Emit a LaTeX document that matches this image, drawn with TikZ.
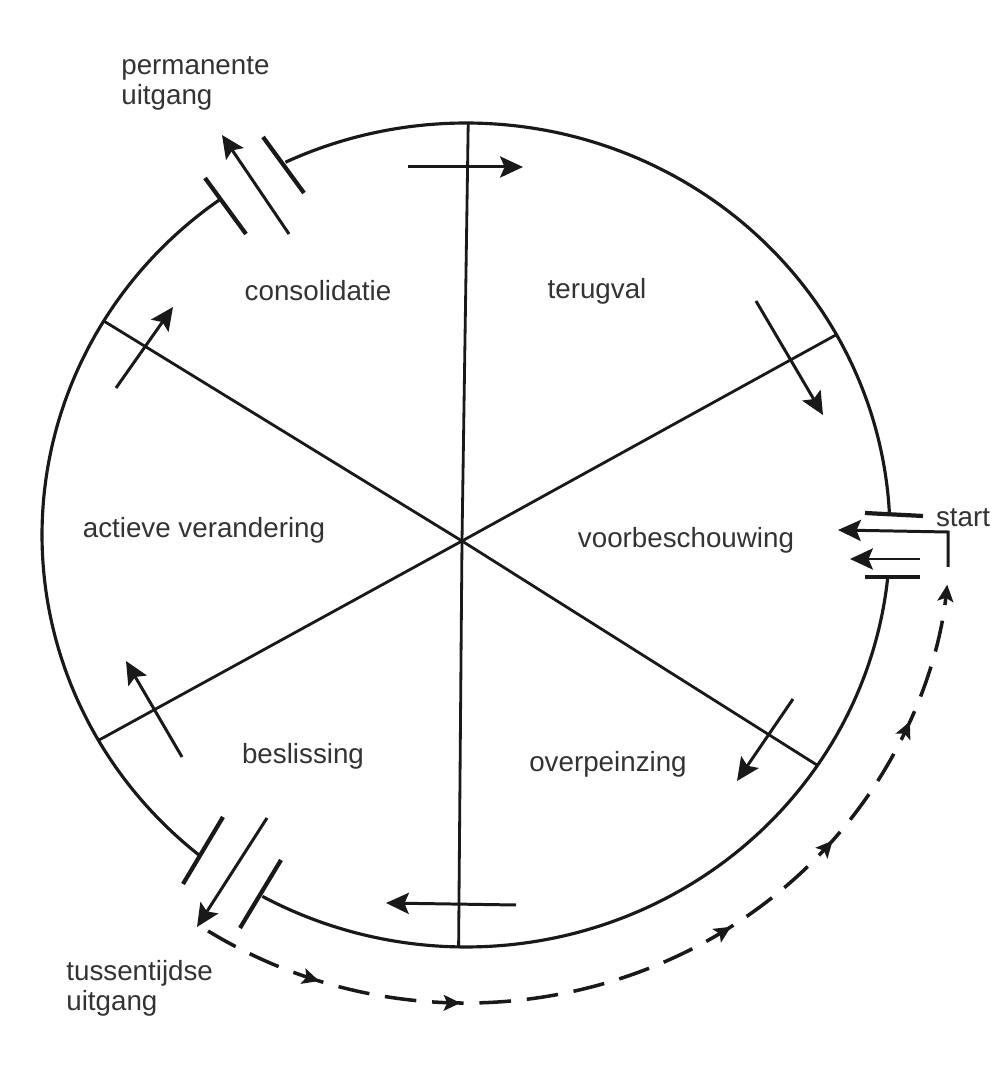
\documentclass[tikz,border=0pt]{standalone}
\usepackage{fontspec}
\setmainfont{Liberation Sans}
\usetikzlibrary{arrows.meta}
\usetikzlibrary{decorations.markings}

\tikzset{
  ring/.style={line width=1.8pt, black!90},
  spoke/.style={line width=1.6pt, black!90},
  gate/.style={line width=2.4pt, black!90},
  flow/.style={line width=1.7pt, black!90, -{Stealth[length=13pt,width=12pt,inset=2.5pt]}},
  phase/.style={font=\fontsize{15.8}{17}\selectfont, text=black!80},
  note/.style={phase, align=left, anchor=west, inner sep=0pt},
  smalltip/.tip={Stealth[length=9.5pt,width=9pt,inset=2pt]},
}

\begin{document}
\begin{tikzpicture}[x=0.02cm, y=0.02cm]
\useasboundingbox (0,0) rectangle (1005,1072);

\pgfmathsetmacro{\rx}{424}
\pgfmathsetmacro{\ry}{412}

\coordinate (c) at (466,537);
\coordinate (hub) at (462,531);

% Draw the circle, open at the three gates
\draw[ring] (c) ++(3:{\rx} and {\ry}) arc[start angle=3, end angle=115.2, x radius=\rx, y radius=\ry];
\draw[ring] (c) ++(125.4:{\rx} and {\ry}) arc[start angle=125.4, end angle=231.1, x radius=\rx, y radius=\ry];
\draw[ring] (c) ++(241.3:{\rx} and {\ry}) arc[start angle=241.3, end angle=354.2, x radius=\rx, y radius=\ry];

% Draw the six spokes
\foreach \a/\n in {89.7/s1, 29.1/s2, -34/s3, 269/s4, 209.9/s5, 148.7/s6} {
  \path (c) ++(\a:{\rx} and {\ry}) coordinate (\n);
  \draw[spoke] (hub) -- (\n);
}

% Phase names
\node[phase] (consolidatie) at (318,781) {consolidatie};
\node[phase] (terugval) at (597,781) {terugval};
\node[phase] (actief) at (204,542) {actieve verandering};
\node[phase] (voorbeschouwing) at (686,532) {voorbeschouwing};
\node[phase] (beslissing) at (303,316) {beslissing};
\node[phase] (overpeinzing) at (608,308) {overpeinzing};

% Arrows running round the circle
\coordinate (a1) at (408,905);  \coordinate (b1) at (523,905);
\coordinate (a2) at (756,771);  \coordinate (b2) at (823,657);
\coordinate (a3) at (793,373);  \coordinate (b3) at (737,291);
\coordinate (a4) at (516,167);  \coordinate (b4) at (386,169);
\coordinate (a5) at (182,315);  \coordinate (b5) at (126,411);
\coordinate (a6) at (116,684);  \coordinate (b6) at (173,765);
\foreach \i in {1,...,6} {
  \draw[flow] (a\i) -- (b\i);
}

% Permanent exit (top left)
\draw[gate] (205,894) -- (246,838);
\draw[gate] (263,935) -- (304,879);
\coordinate (pin) at (289,838);
\coordinate (pout) at (222,937);
\draw[flow] (pin) -- (pout);
\node[note] (permanent) at (121,989) {permanente\\uitgang};

% Temporary exit (bottom left)
\draw[gate] (223,255) -- (183,188);
\draw[gate] (281,212) -- (240,144);
\coordinate (tin) at (267,254);
\coordinate (tout) at (197,145);
\draw[flow] (tin) -- (tout);
\node[note] (tussen) at (66,84) {tussentijdse\\uitgang};

% Way back in (dashed)
\draw[line width=2pt, black!90, dash pattern=on 18pt off 9pt, -{smalltip},
      postaction={decorate},
      decoration={markings,
        mark=at position 0.126 with {\arrow{smalltip}},
        mark=at position 0.274 with {\arrow{smalltip}},
        mark=at position 0.568 with {\arrow{smalltip}},
        mark=at position 0.706 with {\arrow{smalltip}},
        mark=at position 0.853 with {\arrow{smalltip}}}]
  (c) ++(237.8:484 and 468) arc[start angle=237.8, end angle=353.9, x radius=484, y radius=468];

% Entrance (right)
\draw[gate] (865,559) -- (923,556);
\draw[gate] (865,495) -- (920,495);
\coordinate (r0) at (948,505);
\coordinate (r1) at (948,540);
\coordinate (r2) at (838,542);
\draw[flow] (r0) -- (r1) -- (r2);
\coordinate (e0) at (920,513);
\coordinate (e1) at (850,513);
\draw[flow] (e0) -- (e1);
\node[phase] (start) at (963,554) {start};

\end{tikzpicture}
\end{document}
